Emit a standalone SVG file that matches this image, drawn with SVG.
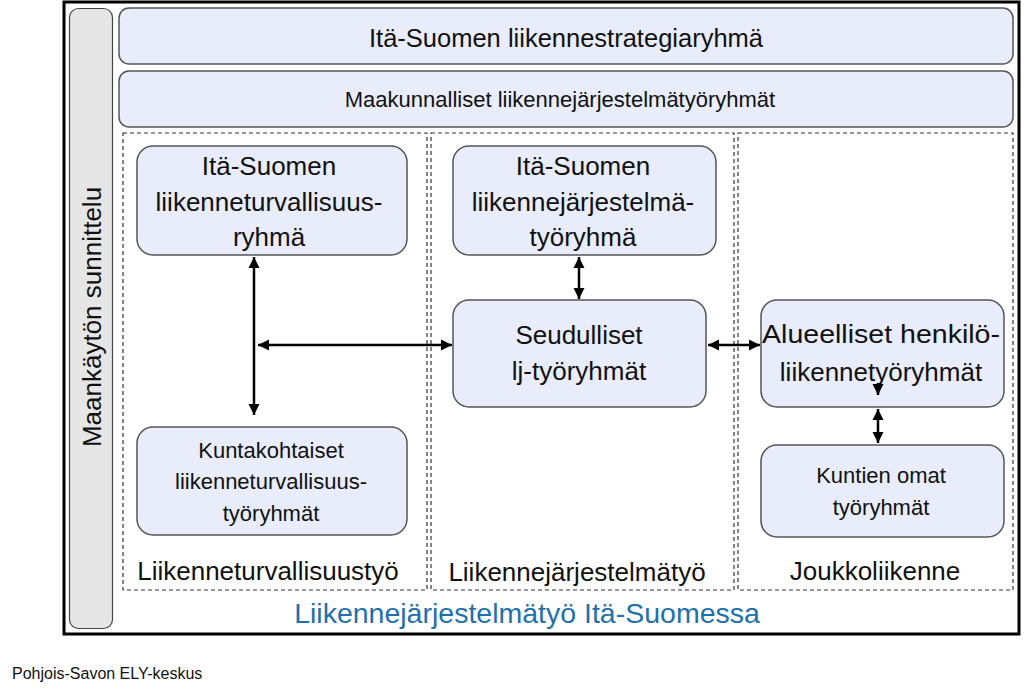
<svg xmlns="http://www.w3.org/2000/svg" width="1024" height="695" viewBox="0 0 1024 695">
<defs>
<style>
.box{fill:#e8ecfb;stroke:#555;stroke-width:1.5}
.t{font-family:"Liberation Sans",Arial,sans-serif;fill:#111;text-anchor:middle}
.panel{fill:none;stroke:#333;stroke-width:1.2;stroke-dasharray:4 3}
.con{stroke:#000;stroke-width:2.5;fill:none;marker-end:url(#ah);marker-start:url(#ahs)}
</style>
<marker id="ah" viewBox="0 0 10 10" refX="10" refY="5" markerWidth="4.5" markerHeight="4.5" orient="auto" markerUnits="strokeWidth"><path d="M0,0 L10,5 L0,10 z" fill="#000"/></marker>
<marker id="ahs" viewBox="0 0 10 10" refX="0" refY="5" markerWidth="4.5" markerHeight="4.5" orient="auto" markerUnits="strokeWidth"><path d="M10,0 L0,5 L10,10 z" fill="#000"/></marker>
</defs>
<rect width="1024" height="695" fill="#fff"/>
<rect id="frame" x="64" y="2" width="955" height="632" fill="#fff" stroke="#000" stroke-width="3"/>
<g id="maankaytto">
<rect x="69.5" y="8.5" width="43" height="620" rx="9" fill="#e6e6e6" stroke="#444" stroke-width="1.2"/>
<text class="t" font-size="26" transform="translate(101,317) rotate(-90)">Maankäytön sunnittelu</text>
</g>
<g id="strategia">
<rect class="box" x="119" y="8" width="894" height="56" rx="10"/>
<text class="t" x="566" y="47" font-size="25.5">Itä-Suomen liikennestrategiaryhmä</text>
</g>
<g id="maakunnalliset">
<rect class="box" x="119" y="71" width="894" height="56" rx="10"/>
<text class="t" x="560" y="107" font-size="22">Maakunnalliset liikennejärjestelmätyöryhmät</text>
</g>
<g id="panels">
<rect class="panel" x="123" y="133" width="304" height="457"/>
<rect class="panel" x="431" y="133" width="303" height="457"/>
<rect class="panel" x="738" y="133" width="275" height="457"/>
<text class="t" x="268" y="580" font-size="26">Liikenneturvallisuustyö</text>
<text class="t" x="577" y="581" font-size="26">Liikennejärjestelmätyö</text>
<text class="t" x="875" y="580" font-size="26">Joukkoliikenne</text>
</g>
<g id="lt-ryhma">
<rect class="box" x="137" y="146" width="270" height="109" rx="16"/>
<text class="t" x="269" y="175" font-size="26">Itä-Suomen</text>
<text class="t" x="269" y="211" font-size="26">liikenneturvallisuus-</text>
<text class="t" x="269" y="246" font-size="26">ryhmä</text>
</g>
<g id="kuntakohtaiset">
<rect class="box" x="137" y="427" width="270" height="108" rx="16"/>
<text class="t" x="271" y="458" font-size="22">Kuntakohtaiset</text>
<text class="t" x="271" y="489" font-size="22">liikenneturvallisuus-</text>
<text class="t" x="271" y="521" font-size="22">työryhmät</text>
</g>
<g id="lj-tyoryhma">
<rect class="box" x="453" y="146" width="263" height="109" rx="16"/>
<text class="t" x="583" y="175" font-size="26">Itä-Suomen</text>
<text class="t" x="583" y="211" font-size="26">liikennejärjestelmä-</text>
<text class="t" x="583" y="246" font-size="26">työryhmä</text>
</g>
<g id="seudulliset">
<rect class="box" x="453" y="300" width="253" height="107" rx="16" stroke="#111" stroke-width="2"/>
<text class="t" x="579" y="344" font-size="26">Seudulliset</text>
<text class="t" x="579" y="380" font-size="26">lj-työryhmät</text>
</g>
<g id="alueelliset">
<rect class="box" x="761" y="300" width="243" height="107" rx="16"/>
<text class="t" x="881" y="343" font-size="26" textLength="238" lengthAdjust="spacingAndGlyphs">Alueelliset henkilö-</text>
<text class="t" x="881" y="381" font-size="26">liikennetyöryhmät</text>
</g>
<g id="kuntien">
<rect class="box" x="761" y="445" width="243" height="92" rx="16"/>
<text class="t" x="881" y="483" font-size="22">Kuntien omat</text>
<text class="t" x="881" y="515" font-size="22">työryhmät</text>
</g>
<g id="connectors">
<line class="con" x1="254" y1="257" x2="254" y2="415"/>
<line class="con" x1="258" y1="345" x2="452" y2="345"/>
<line class="con" x1="579" y1="257" x2="579" y2="299"/>
<line class="con" x1="708" y1="345" x2="760" y2="345"/>
<line class="con" x1="878" y1="409" x2="878" y2="443"/>
<line stroke="#000" stroke-width="2.5" marker-end="url(#ah)" x1="878" y1="383" x2="878" y2="395"/>
</g>
<text x="527" y="623" font-family="'Liberation Sans',Arial,sans-serif" font-size="28.5" fill="#1f70ad" text-anchor="middle">Liikennejärjestelmätyö Itä-Suomessa</text>
<text x="12" y="679" font-family="'Liberation Sans',Arial,sans-serif" font-size="16" fill="#111">Pohjois-Savon ELY-keskus</text>
</svg>
